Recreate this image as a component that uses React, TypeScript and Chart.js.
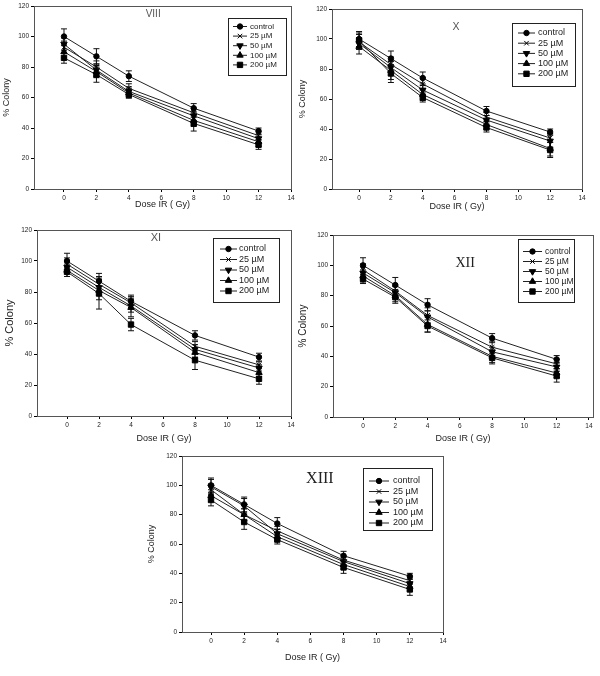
import React, { useEffect, useRef } from "react";
import { Chart, registerables } from "chart.js";

Chart.register(...registerables);
Chart.defaults.font.family = 'Arial, "Liberation Sans", sans-serif';

// ---------- shared axes / labels ----------
const doses = [0, 2, 4, 8, 12];
const xTickValues = [0, 2, 4, 6, 8, 10, 12, 14];
const yTickValues = [0, 20, 40, 60, 80, 100, 120];
const seriesNames = ["control", "25 µM", "50 µM", "100 µM", "200 µM"];

// ---------- panel VIII ----------
const viiiControl = [100, 87, 74, 53, 38];
const viii25 = [93, 80, 66, 50, 35];
const viii50 = [95, 78, 64, 48, 33];
const viii100 = [90, 77, 63, 45, 31];
const viii200 = [86, 75, 62, 43, 29];
const viiiControlErr = [5, 5, 3.5, 3, 2];
const viii25Err = [4, 4, 3, 3, 2.5];
const viii50Err = [4, 4, 3, 3, 2.5];
const viii100Err = [4, 4, 3, 4, 3];
const viii200Err = [3.5, 5, 2.5, 5, 3];

// ---------- panel X ----------
const xControl = [100, 87, 74, 52, 38];
const x25 = [98, 83, 70, 48, 34];
const x50 = [97, 81, 66, 46, 32];
const x100 = [95, 79, 63, 43, 27];
const x200 = [99, 77, 61, 41, 26];
const xControlErr = [5, 5, 4, 3, 2];
const x25Err = [5, 5, 4, 3, 3];
const x50Err = [4, 5, 3, 3, 4];
const x100Err = [5, 6, 4, 3, 5];
const x200Err = [5, 6, 3, 3, 5];

// ---------- panel XI ----------
const xiControl = [100, 87, 74, 52, 38];
const xi25 = [98, 85, 73, 45, 33];
const xi50 = [96, 83, 71, 43, 31];
const xi100 = [94, 81, 70, 41, 28];
const xi200 = [93, 79, 59, 36, 24];
const xiControlErr = [5, 5, 4, 3, 2.5];
const xi25Err = [4, 5, 4, 3, 2];
const xi50Err = [4, 5, 4, 3, 2];
const xi100Err = [4, 6, 6, 3, 2.5];
const xi200Err = [3, 10, 4, 6, 3.5];

// ---------- panel XII ----------
const xiiControl = [100, 87, 74, 52, 38];
const xii25 = [97, 83, 67, 46, 35];
const xii50 = [95, 82, 66, 43, 33];
const xii100 = [93, 80, 61, 40, 29];
const xii200 = [91, 79, 60, 39, 27];
const xiiControlErr = [5, 5, 4, 3, 2.5];
const xii25Err = [4, 4, 5, 4, 3];
const xii50Err = [4, 4, 4, 3, 3];
const xii100Err = [4, 4, 5, 4, 3];
const xii200Err = [3, 4, 4, 4, 4];

// ---------- panel XIII ----------
const xiiiControl = [100, 87, 74, 52, 38];
const xiii25 = [97, 80, 69, 49, 35];
const xiii50 = [99, 86, 67, 48, 33];
const xiii100 = [93, 80, 65, 46, 31];
const xiii200 = [90, 75, 63, 44, 29];
const xiiiControlErr = [5, 5, 4, 3, 2];
const xiii25Err = [4, 4, 3, 3, 2.5];
const xiii50Err = [5, 5, 3, 3, 3];
const xiii100Err = [4, 4, 3, 3, 3];
const xiii200Err = [4, 5, 3, 4, 4];

// ---------- styles ----------
const markers = [
  { style: "circle", r: 2.7, rot: 0 },
  { style: "crossRot", r: 3.2, rot: 0 },
  { style: "triangle", r: 3.7, rot: 180 },
  { style: "triangle", r: 3.7, rot: 0 },
  { style: "rect", r: 3.8, rot: 0 },
];
const LINE = "#222";
const SANS = 'Arial, "Liberation Sans", sans-serif';
const SERIF = '"Times New Roman", "Liberation Serif", serif';

type Legend = { x: number; y: number; w: number; h: number; row0: number; gap: number; l0: number; l1: number; tx: number; font: number };
type PanelCfg = {
  label: string; labelX: number; labelY: number; labelFont: string; labelColor: string;
  series: number[][]; errors: number[][];
  left: number; top: number; w: number; h: number;
  padTop: number; padRight: number; yW: number; xH: number; xMin: number; xMax: number;
  yTitleFont: number; yTitlePad: number; xTitlePad: number; legend: Legend;
};

const panels: PanelCfg[] = [
  {
    label: "VIII", labelX: 5.5, labelY: 114.5, labelFont: `10px ${SANS}`, labelColor: "#555",
    series: [viiiControl, viii25, viii50, viii100, viii200],
    errors: [viiiControlErr, viii25Err, viii50Err, viii100Err, viii200Err],
    left: 0, top: 0, w: 300, h: 215, padTop: 6, padRight: 9, yW: 34, xH: 26, xMin: -1.85, xMax: 14,
    yTitleFont: 9, yTitlePad: 1.6, xTitlePad: 4.6,
    legend: { x: 228, y: 18, w: 58, h: 57, row0: 8.5, gap: 9.6, l0: 5, l1: 19, tx: 22, font: 8 },
  },
  {
    label: "X", labelX: 6.09, labelY: 108, labelFont: `10.5px ${SANS}`, labelColor: "#555",
    series: [xControl, x25, x50, x100, x200],
    errors: [xControlErr, x25Err, x50Err, x100Err, x200Err],
    left: 296, top: 0, w: 304, h: 217, padTop: 9, padRight: 18, yW: 36, xH: 28, xMin: -1.7, xMax: 14,
    yTitleFont: 9, yTitlePad: 1.1, xTitlePad: 4.6,
    legend: { x: 216, y: 23, w: 63, h: 63, row0: 10, gap: 10.2, l0: 6, l1: 23, tx: 26, font: 9 },
  },
  {
    label: "XI", labelX: 5.56, labelY: 114.8, labelFont: `11px ${SANS}`, labelColor: "#555",
    series: [xiControl, xi25, xi50, xi100, xi200],
    errors: [xiControlErr, xi25Err, xi50Err, xi100Err, xi200Err],
    left: 0, top: 220, w: 300, h: 226, padTop: 10, padRight: 9, yW: 37, xH: 30, xMin: -1.875, xMax: 14,
    yTitleFont: 11, yTitlePad: 3.4, xTitlePad: 1.6,
    legend: { x: 213, y: 18, w: 66, h: 64, row0: 11, gap: 10.5, l0: 7, l1: 24, tx: 26, font: 9 },
  },
  {
    label: "XII", labelX: 6.33, labelY: 101.5, labelFont: `14px ${SERIF}`, labelColor: "#222",
    series: [xiiControl, xii25, xii50, xii100, xii200],
    errors: [xiiControlErr, xii25Err, xii50Err, xii100Err, xii200Err],
    left: 296, top: 220, w: 304, h: 226, padTop: 15, padRight: 7, yW: 37, xH: 29, xMin: -1.86, xMax: 14.25,
    yTitleFont: 10, yTitlePad: 1, xTitlePad: 1.6,
    legend: { x: 222, y: 19, w: 56, h: 63, row0: 12.5, gap: 10, l0: 5, l1: 24, tx: 27, font: 8.5 },
  },
  {
    label: "XIII", labelX: 6.57, labelY: 104.3, labelFont: `16px ${SERIF}`, labelColor: "#222",
    series: [xiiiControl, xiii25, xiii50, xiii100, xiii200],
    errors: [xiiiControlErr, xiii25Err, xiii50Err, xiii100Err, xiii200Err],
    left: 145, top: 440, w: 305, h: 230, padTop: 16, padRight: 7, yW: 37, xH: 38, xMin: -1.75, xMax: 14,
    yTitleFont: 9, yTitlePad: 1.6, xTitlePad: 6.6,
    legend: { x: 218, y: 28, w: 69, h: 62, row0: 13, gap: 10.5, l0: 6, l1: 26, tx: 30, font: 9 },
  },
];

function drawMarker(ctx: CanvasRenderingContext2D, style: string, x: number, y: number, r: number, rotDeg: number) {
  const rad = (rotDeg * Math.PI) / 180;
  ctx.beginPath();
  if (style === "circle") {
    ctx.arc(x, y, r, 0, Math.PI * 2);
    ctx.fill();
    ctx.stroke();
  } else if (style === "triangle") {
    let a = rad;
    ctx.moveTo(x + Math.sin(a) * r, y - Math.cos(a) * r);
    a += (2 * Math.PI) / 3;
    ctx.lineTo(x + Math.sin(a) * r, y - Math.cos(a) * r);
    a += (2 * Math.PI) / 3;
    ctx.lineTo(x + Math.sin(a) * r, y - Math.cos(a) * r);
    ctx.closePath();
    ctx.fill();
    ctx.stroke();
  } else if (style === "rect") {
    const s = Math.SQRT1_2 * r;
    ctx.rect(x - s, y - s, 2 * s, 2 * s);
    ctx.fill();
    ctx.stroke();
  } else if (style === "crossRot") {
    const d = r * Math.SQRT1_2;
    ctx.moveTo(x - d, y - d);
    ctx.lineTo(x + d, y + d);
    ctx.moveTo(x - d, y + d);
    ctx.lineTo(x + d, y - d);
    ctx.stroke();
  }
}

function Panel({ cfg }: { cfg: PanelCfg }) {
  const ref = useRef<HTMLCanvasElement>(null);
  useEffect(() => {
    if (!ref.current) return;
    const decor = {
      id: "decor" + cfg.label,
      beforeDatasetsDraw(chart: any) {
        const ctx = chart.ctx as CanvasRenderingContext2D;
        const xs = chart.scales.x;
        const ys = chart.scales.y;
        ctx.save();
        ctx.strokeStyle = "#111";
        ctx.lineWidth = 1;
        cfg.series.forEach((vals, i) => {
          const errs = cfg.errors[i];
          vals.forEach((v, j) => {
            const px = xs.getPixelForValue(doses[j]);
            const y1 = ys.getPixelForValue(v + errs[j]);
            const y2 = ys.getPixelForValue(v - errs[j]);
            ctx.beginPath();
            ctx.moveTo(px, y1);
            ctx.lineTo(px, y2);
            ctx.moveTo(px - 3, y1);
            ctx.lineTo(px + 3, y1);
            ctx.moveTo(px - 3, y2);
            ctx.lineTo(px + 3, y2);
            ctx.stroke();
          });
        });
        ctx.restore();
      },
      afterDraw(chart: any) {
        const ctx = chart.ctx as CanvasRenderingContext2D;
        const a = chart.chartArea;
        const xs = chart.scales.x;
        const ys = chart.scales.y;
        ctx.save();
        // frame
        ctx.strokeStyle = "#555";
        ctx.lineWidth = 1;
        ctx.strokeRect(Math.round(a.left) + 0.5, Math.round(a.top) + 0.5, Math.round(a.right - a.left), Math.round(a.bottom - a.top));
        // panel label
        ctx.fillStyle = cfg.labelColor;
        ctx.font = cfg.labelFont;
        ctx.textAlign = "center";
        ctx.textBaseline = "middle";
        ctx.fillText(cfg.label, xs.getPixelForValue(cfg.labelX), ys.getPixelForValue(cfg.labelY));
        // legend
        const L = cfg.legend;
        ctx.strokeStyle = "#222";
        ctx.strokeRect(L.x + 0.5, L.y + 0.5, L.w, L.h);
        ctx.font = `${L.font}px ${SANS}`;
        ctx.textAlign = "left";
        seriesNames.forEach((name, i) => {
          const ry = L.y + L.row0 + i * L.gap;
          ctx.strokeStyle = LINE;
          ctx.beginPath();
          ctx.moveTo(L.x + L.l0, ry);
          ctx.lineTo(L.x + L.l1, ry);
          ctx.stroke();
          ctx.fillStyle = "#000";
          ctx.strokeStyle = "#000";
          const m = markers[i];
          drawMarker(ctx, m.style, (L.x + L.l0 + L.x + L.l1) / 2, ry, m.r, m.rot);
          ctx.fillStyle = "#222";
          ctx.fillText(name, L.x + L.tx, ry);
        });
        ctx.restore();
      },
    };

    const chart = new Chart(ref.current, {
      type: "line",
      data: {
        datasets: cfg.series.map((vals, i) => ({
          label: seriesNames[i],
          data: doses.map((d, j) => ({ x: d, y: vals[j] })),
          borderColor: LINE,
          borderWidth: 1,
          pointStyle: markers[i].style as any,
          pointRadius: markers[i].r,
          pointRotation: markers[i].rot,
          pointBackgroundColor: "#000",
          pointBorderColor: "#000",
          pointBorderWidth: 1,
          tension: 0,
          fill: false,
        })),
      },
      options: {
        responsive: false,
        animation: false,
        devicePixelRatio: 1,
        layout: { padding: { top: cfg.padTop, right: cfg.padRight, left: 0, bottom: 0 } },
        plugins: { legend: { display: false }, tooltip: { enabled: false } },
        scales: {
          x: {
            type: "linear",
            min: cfg.xMin,
            max: cfg.xMax,
            afterBuildTicks: (s: any) => {
              s.ticks = xTickValues.map((v) => ({ value: v }));
            },
            afterFit: (s: any) => {
              s.height = cfg.xH;
            },
            grid: { display: true, drawOnChartArea: false, drawTicks: true, tickLength: 3, color: "#000" },
            border: { display: true, color: "#000", width: 1 },
            ticks: { font: { size: 6.5 }, color: "#222", padding: 2, maxRotation: 0, autoSkip: false },
            title: {
              display: true,
              text: "Dose IR ( Gy)",
              font: { size: 9 },
              color: "#222",
              padding: { top: 0, bottom: cfg.xTitlePad },
            },
          },
          y: {
            type: "linear",
            min: 0,
            max: 120,
            afterBuildTicks: (s: any) => {
              s.ticks = yTickValues.map((v) => ({ value: v }));
            },
            afterFit: (s: any) => {
              s.width = cfg.yW;
            },
            grid: { display: true, drawOnChartArea: false, drawTicks: true, tickLength: 3, color: "#000" },
            border: { display: true, color: "#000", width: 1 },
            ticks: { font: { size: 6.5 }, color: "#222", padding: 2 },
            title: {
              display: true,
              text: "% Colony",
              font: { size: cfg.yTitleFont },
              color: "#222",
              padding: { top: cfg.yTitlePad, bottom: 0 },
            },
          },
        },
      },
      plugins: [decor],
    } as any);
    return () => chart.destroy();
  }, []);
  return (
    <canvas
      ref={ref}
      width={cfg.w}
      height={cfg.h}
      style={{ position: "absolute", left: cfg.left, top: cfg.top, width: cfg.w, height: cfg.h }}
    />
  );
}

export default function App() {
  return (
    <div style={{ position: "absolute", left: 0, top: 0, width: 600, height: 676, background: "#fff", overflow: "hidden" }}>
      {panels.map((p) => (
        <Panel key={p.label} cfg={p} />
      ))}
    </div>
  );
}
